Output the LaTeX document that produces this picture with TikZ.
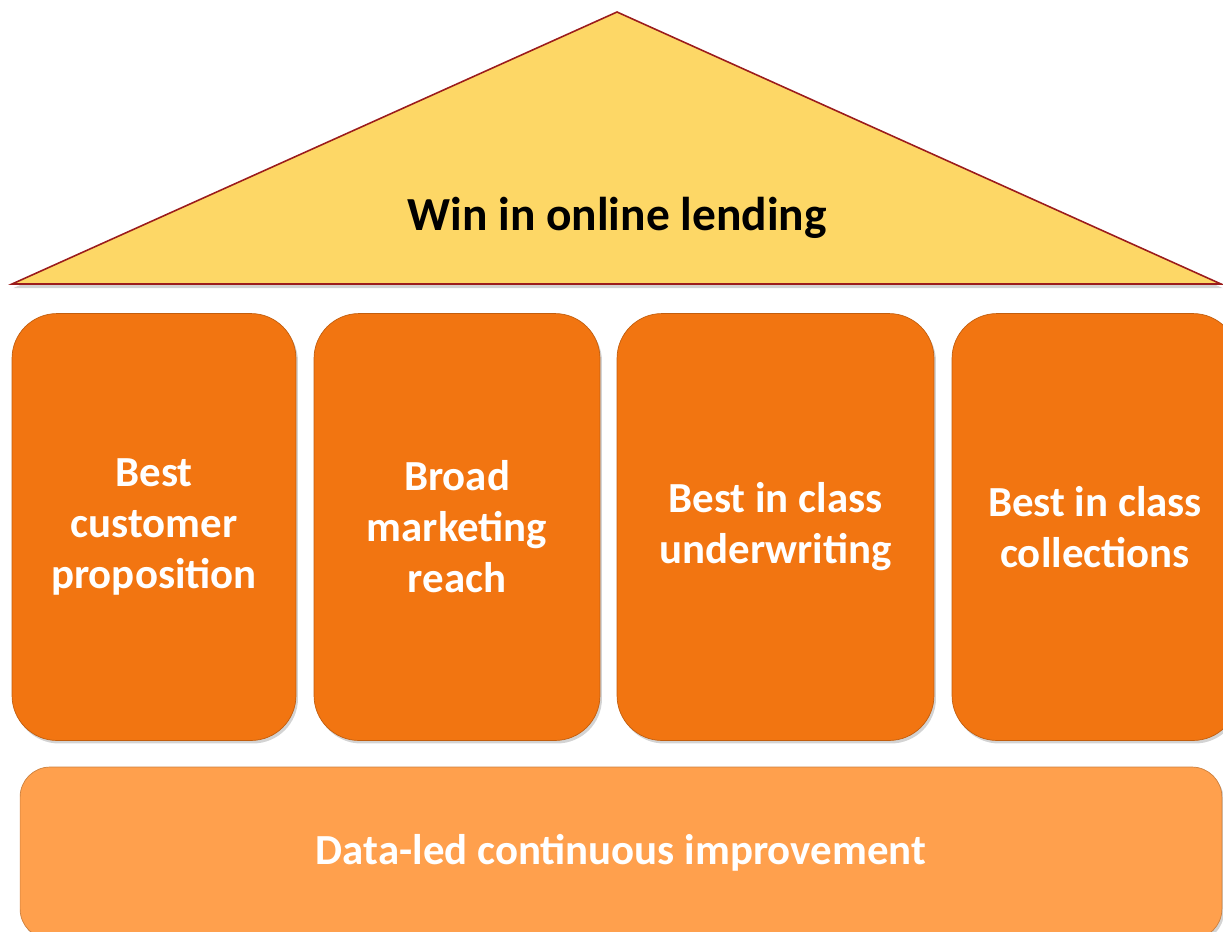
\documentclass[tikz,border=0pt]{standalone}
\usepackage{fontspec}
\setmainfont{Carlito}
\usepackage{xcolor}
\usetikzlibrary{shadows}

\definecolor{roofFill}{HTML}{FDD766}
\definecolor{roofLine}{HTML}{9B1C1C}
\definecolor{pillarFill}{HTML}{F27511}
\definecolor{baseFill}{HTML}{FFA04D}

\begin{document}
\begin{tikzpicture}[
    x=0.02cm, y=-0.02cm,
    pillar/.style={fill=pillarFill, draw=pillarFill!80!black, line width=0.4pt, rounded corners=0.9cm,
        minimum height=8.54cm, align=center, text=white, font=\fontsize{24.4}{29}\selectfont\bfseries,
        drop shadow={opacity=0.35, shadow xshift=0.04cm, shadow yshift=-0.06cm}},
    lbl/.style={font=\fontsize{27}{32}\selectfont\bfseries, align=center},
]
\useasboundingbox (0,0) rectangle (1223,931);

% roof
\draw[fill=roofFill, draw=roofLine, line width=0.9pt, drop shadow={opacity=0.35, shadow xshift=0.03cm, shadow yshift=-0.08cm}]
    (617,12) -- (1221,284) -- (12,284) -- cycle;
\node[lbl] (roof) at (617,218) {Win in online lending};

% pillars
\node[pillar, minimum width=5.68cm] (custprop) at (154,527) {Best\\customer\\proposition};
\node[pillar, minimum width=5.72cm] (mktreach) at (457,527) {Broad\\marketing\\reach};
\node[pillar, minimum width=6.34cm] (underwrite) at (775.5,527) {Best in class\\underwriting};
\node[pillar, minimum width=5.72cm] (collect) at (1095,527) {Best in class\\collections};

% base
\node[pillar, fill=baseFill, draw=baseFill!80!black, minimum width=24.04cm, minimum height=3.44cm,
    rounded corners=0.6cm] (dataled) at (621,853) {Data-led continuous improvement};

\end{tikzpicture}
\end{document}
